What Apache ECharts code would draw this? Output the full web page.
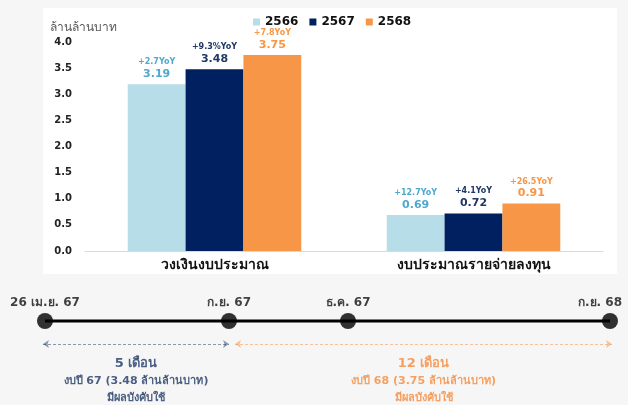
<!DOCTYPE html>
<html><head><meta charset="utf-8">
<script src="https://cdn.jsdelivr.net/npm/echarts@6/dist/echarts.min.js"></script>
<style>html,body{margin:0;padding:0;background:#f6f6f6;}#c{width:628px;height:405px;}</style>
</head><body><div id="c"></div>
<script>
// ---- data ----
const categories = ['วงเงินงบประมาณ', 'งบประมาณรายจ่ายลงทุน'];
const years = ['2566', '2567', '2568'];
const values2566 = [3.19, 0.69];
const values2567 = [3.48, 0.72];
const values2568 = [3.75, 0.91];
const yoy2566 = ['+2.7YoY', '+12.7YoY'];
const yoy2567 = ['+9.3%YoY', '+4.1YoY'];
const yoy2568 = ['+7.8YoY', '+26.5YoY'];
const yTicks = ['0.0','0.5','1.0','1.5','2.0','2.5','3.0','3.5','4.0'];
const yUnit = 'ล้านล้านบาท';

// timeline (schematic positions)
const milestoneLabels = ['26 เม.ย. 67', 'ก.ย. 67', 'ธ.ค. 67', 'ก.ย. 68'];
const milestonePos = [0, 184, 303, 565];
const periodFrom = [-2, 190];
const periodTo = [184, 567];
const periodTitles = ['5 เดือน', '12 เดือน'];
const periodNotes = ['งบปี 67 (3.48 ล้านล้านบาท)', 'งบปี 68 (3.75 ล้านล้านบาท)'];
const periodStatus = ['มีผลบังคับใช้', 'มีผลบังคับใช้'];

// ---- style ----
const FONT = '"DejaVu Sans", "Noto Sans", sans-serif';
const barColors = ['#b6dde8', '#002060', '#f79646'];
const labelColors = ['#4fa9cf', '#1f3864', '#f79646'];
const periodColors = ['#1f3864', '#f58a3c'];
const valuesAll = [values2566, values2567, values2568];
const yoyAll = [yoy2566, yoy2567, yoy2568];

const barSeries = years.map((y, i) => ({
  name: y, type: 'bar', xAxisIndex: 0, yAxisIndex: 0,
  barGap: '0%', barCategoryGap: '33%',
  itemStyle: { color: barColors[i] },
  data: valuesAll[i].map((v, j) => ({ value: v, yoy: yoyAll[i][j] })),
  labelLayout: { hideOverlap: false },
  label: {
    show: true, position: 'top', distance: 3, align: 'center',
    formatter: p => '{a|' + p.data.yoy + '}\n{b|' + p.value.toFixed(2) + '}',
    rich: {
      a: { fontSize: 8, fontWeight: 'bold', color: labelColors[i], fontFamily: FONT, lineHeight: 10, align: 'center' },
      b: { fontSize: 11, fontWeight: 'bold', color: labelColors[i], fontFamily: FONT, lineHeight: 14, align: 'center' }
    }
  }
}));

const tlX = 45, tlW = 565;
const option = {
  backgroundColor: '#f6f6f6',
  animation: false,
  textStyle: { fontFamily: FONT },
  graphic: [{ type: 'rect', z: -10, silent: true, shape: { x: 43, y: 8, width: 574, height: 266 }, style: { fill: '#ffffff' } }],
  legend: {
    data: years, left: 248, top: 11, itemWidth: 7, itemHeight: 7, itemGap: 11,
    icon: 'rect',
    textStyle: { fontSize: 12, fontWeight: 'bold', color: '#111', fontFamily: FONT }
  },
  grid: [
    { left: 85, width: 518, top: 42, height: 209 },
    { left: tlX, width: tlW, top: 298, height: 46 }
  ],
  xAxis: [
    { type: 'category', gridIndex: 0, data: categories,
      axisLine: { lineStyle: { color: '#d9d9d9', width: 1 } }, axisTick: { show: false },
      axisLabel: { margin: 7, fontSize: 14, fontWeight: 'bold', color: '#111', fontFamily: FONT } },
    { type: 'value', gridIndex: 1, min: 0, max: 565, show: false }
  ],
  yAxis: [
    { type: 'value', gridIndex: 0, min: 0, max: 4, interval: 0.5,
      name: yUnit, nameLocation: 'end', nameGap: 8,
      nameTextStyle: { align: 'left', padding: [0, 0, 0, -35], fontSize: 12, color: '#595959', fontFamily: FONT },
      splitLine: { show: false }, axisLine: { show: false }, axisTick: { show: false },
      axisLabel: { margin: 13, fontSize: 10, fontWeight: 'bold', color: '#222', fontFamily: FONT,
        formatter: (v) => yTicks[Math.round(v / 0.5)] } },
    { type: 'value', gridIndex: 1, min: -1, max: 1, show: false }
  ],
  series: [
    ...barSeries,
    { type: 'line', xAxisIndex: 1, yAxisIndex: 1, clip: false, symbol: 'none', silent: true,
      lineStyle: { color: '#000', width: 3 },
      data: [[milestonePos[0], 0], [milestonePos[milestonePos.length - 1], 0]] },
    { type: 'scatter', xAxisIndex: 1, yAxisIndex: 1, clip: false, symbolSize: 16,
      itemStyle: { color: '#000' },
      data: milestonePos.map((p, i) => ({
        value: [p, 0], name: milestoneLabels[i],
        label: i === milestonePos.length - 1 ? { offset: [-10, 0] } : {}
      })),
      label: { show: true, position: 'top', distance: 4, formatter: p => p.name,
        fontSize: 12, fontWeight: 'bold', color: '#111', fontFamily: FONT } },
    { type: 'lines', coordinateSystem: 'cartesian2d', xAxisIndex: 1, yAxisIndex: 1, clip: false,
      symbol: ['arrow', 'arrow'], symbolSize: 6,
      data: periodFrom.map((f, i) => ({
        coords: [[f, -1], [periodTo[i], -1]],
        lineStyle: { color: periodColors[i], type: [3, 2], width: 1 }
      })) },
    { type: 'scatter', xAxisIndex: 1, yAxisIndex: 1, clip: false, symbolSize: 0, silent: true,
      data: periodFrom.map((f, i) => ({
        value: [(f + periodTo[i]) / 2, -1], idx: i,
        label: {
          formatter: '{t|' + periodTitles[i] + '}\n{s|' + periodNotes[i] + '}\n{s|' + periodStatus[i] + '}',
          rich: {
            t: { fontSize: 13, fontWeight: 'bold', color: periodColors[i], lineHeight: 19, fontFamily: FONT, align: 'center' },
            s: { fontSize: 11, fontWeight: 'bold', color: periodColors[i], lineHeight: 17, fontFamily: FONT, align: 'center' }
          }
        }
      })),
      label: { show: true, position: 'bottom', distance: 10 } }
  ]
};
const chart = echarts.init(document.getElementById('c'), null, { renderer: 'canvas' });
chart.setOption(option);
</script></body></html>
